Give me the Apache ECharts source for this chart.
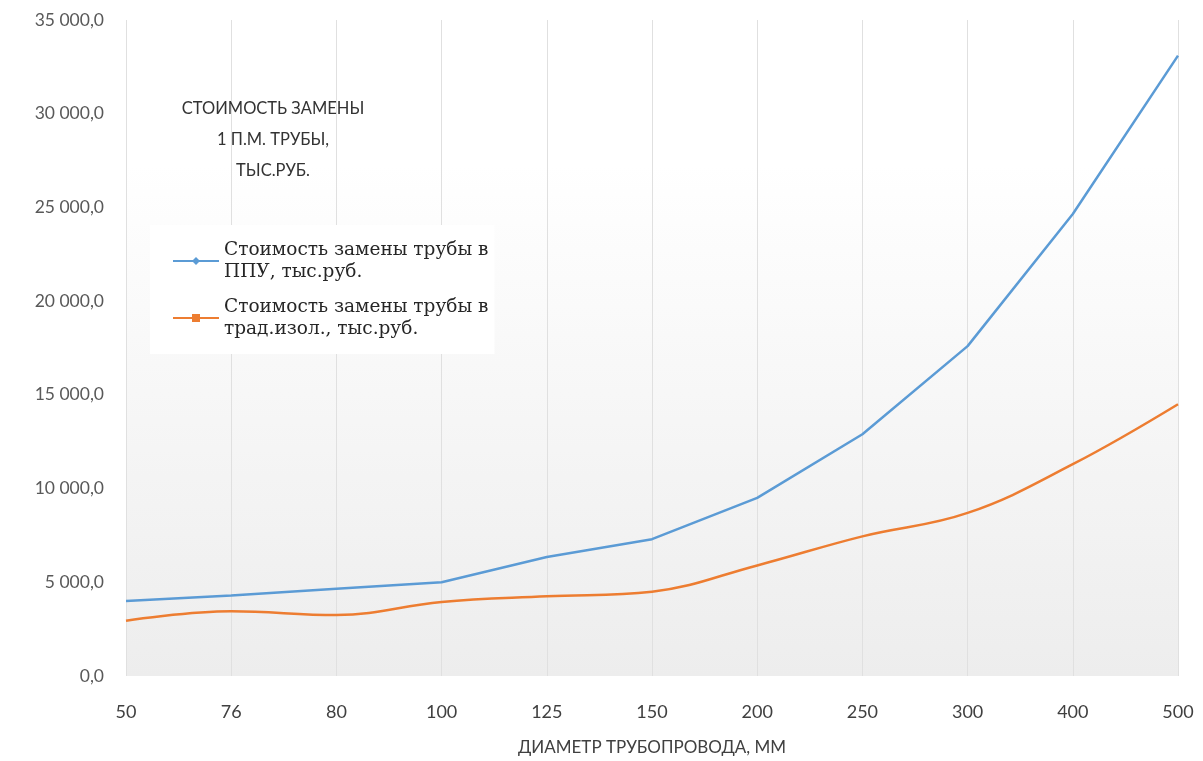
<!DOCTYPE html>
<html><head><meta charset="utf-8">
<script src="https://cdn.jsdelivr.net/npm/echarts@6/dist/echarts.min.js"></script>
<style>html,body{margin:0;padding:0;background:#fff}#c{width:1203px;height:761px}</style>
</head><body><div id="c"></div>
<script>
const categories = ['50','76','80','100','125','150','200','250','300','400','500'];
const ppuValues = [4000, 4300, 4650, 5000, 6350, 7300, 9500, 12900, 17600, 24650, 33100];
const tradValues = [2950, 3450, 3250, 3950, 4250, 4500, 5900, 7450, 8700, 11300, 14500];
const seriesNames = ['Стоимость замены трубы в ППУ, тыс.руб.', 'Стоимость замены трубы в трад.изол., тыс.руб.'];
const titleText = 'СТОИМОСТЬ ЗАМЕНЫ\n1 П.М. ТРУБЫ,\nТЫС.РУБ.';
const xAxisName = 'ДИАМЕТР ТРУБОПРОВОДА, ММ';

function fmt(v){
  const s = Math.round(v).toString().replace(/\B(?=(\d{3})+(?!\d))/g, ' ');
  return s + ',0';
}
const chart = echarts.init(document.getElementById('c'));
chart.setOption({
  animation: false,
  backgroundColor: '#ffffff',
  title: {
    text: titleText, left: 268, top: 88, textAlign: 'center',
    textStyle: {fontFamily: 'Lato', fontSize: 16.5, fontWeight: 'normal', color: '#333333', lineHeight: 31}
  },
  legend: {
    orient: 'vertical', left: 150, top: 225,
    backgroundColor: '#ffffff', padding: [14, 6, 14, 22],
    itemWidth: 46, itemHeight: 10, itemGap: 13,
    data: seriesNames,
    formatter: n => n.replace('трубы в ', 'трубы в\n'),
    textStyle: {fontFamily: 'DejaVu Serif', fontSize: 18.5, color: '#262626', lineHeight: 22}
  },
  grid: {
    left: 126, right: 25, top: 20, bottom: 84, show: true, borderWidth: 0,
    backgroundColor: new echarts.graphic.LinearGradient(0, 0, 0, 1, [
      {offset: 0, color: '#ffffff'}, {offset: 0.22, color: '#ffffff'}, {offset: 1, color: '#ededed'}
    ])
  },
  xAxis: {
    type: 'category', data: categories, boundaryGap: false,
    name: xAxisName, nameLocation: 'middle', nameGap: 63,
    nameTextStyle: {fontFamily: 'Lato', fontSize: 17, color: '#404040'},
    axisLine: {show: false}, axisTick: {show: false},
    axisLabel: {fontFamily: 'Lato', fontSize: 18, color: '#404040', margin: 27},
    splitLine: {show: true, lineStyle: {color: '#e0e0e0', width: 1}}
  },
  yAxis: {
    type: 'value', min: 0, max: 35000, interval: 5000,
    axisLine: {show: false}, axisTick: {show: false},
    splitLine: {show: false},
    axisLabel: {fontFamily: 'Lato', fontSize: 17.5, color: '#595959', margin: 22, formatter: fmt}
  },
  series: [
    {name: seriesNames[0], type: 'line', data: ppuValues, smooth: false, showSymbol: false,
     symbol: 'diamond', symbolSize: 7, color: '#5b9bd5', lineStyle: {width: 2.5, color: '#5b9bd5'}},
    {name: seriesNames[1], type: 'line', data: tradValues, smooth: 0.4, showSymbol: false,
     symbol: 'rect', symbolSize: 7, color: '#ed7d31', lineStyle: {width: 2.5, color: '#ed7d31'}}
  ]
});
</script></body></html>
